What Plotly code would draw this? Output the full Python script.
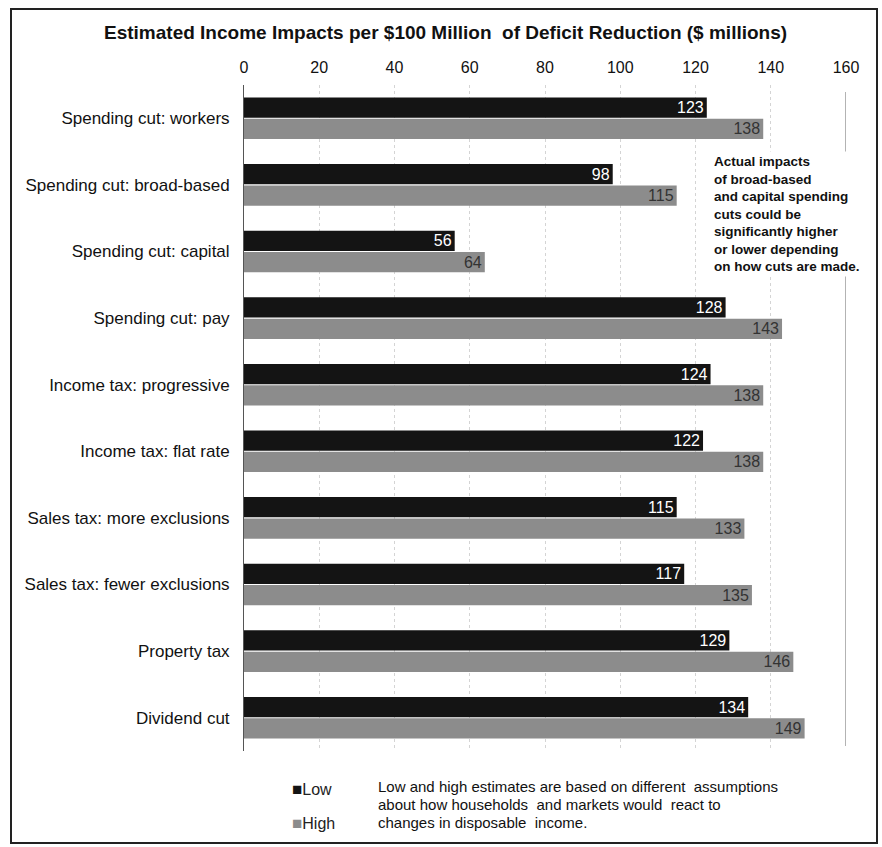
import plotly.graph_objects as go

# Deficit-reduction options (top to bottom)
categories = [
    "Spending cut: workers",
    "Spending cut: broad-based",
    "Spending cut: capital",
    "Spending cut: pay",
    "Income tax: progressive",
    "Income tax: flat rate",
    "Sales tax: more exclusions",
    "Sales tax: fewer exclusions",
    "Property tax",
    "Dividend cut",
]
low_values = [123, 98, 56, 128, 124, 122, 115, 117, 129, 134]
high_values = [138, 115, 64, 143, 138, 138, 133, 135, 146, 149]
x_ticks = [0, 20, 40, 60, 80, 100, 120, 140, 160]

note_lines = [
    "Low and high estimates are based on different  assumptions",
    "about how households  and markets would  react to",
    "changes in disposable  income.",
]

LOW_COLOR = "#141414"
HIGH_COLOR = "#8c8c8c"
FONT = "Liberation Sans, Arial, sans-serif"

W, H = 882, 847
M_L, M_R, M_T, M_B = 244, 36, 85, 96

fig = go.Figure()
fig.add_trace(go.Bar(
    name="Low", y=categories, x=low_values, orientation="h",
    marker=dict(color=LOW_COLOR, line=dict(width=0)),
    text=[str(v) for v in low_values], textposition="inside", textangle=0,
    insidetextanchor="end", constraintext="none",
    insidetextfont=dict(color="white", size=16, family=FONT),
    showlegend=False,
))
fig.add_trace(go.Bar(
    name="High", y=categories, x=high_values, orientation="h",
    marker=dict(color=HIGH_COLOR, line=dict(width=0)),
    text=[str(v) for v in high_values], textposition="inside", textangle=0,
    insidetextanchor="end", constraintext="none",
    insidetextfont=dict(color="#333333", size=16, family=FONT),
    showlegend=False,
))

fig.update_layout(
    width=W, height=H,
    margin=dict(l=M_L, r=M_R, t=M_T, b=M_B, pad=0),
    paper_bgcolor="white", plot_bgcolor="white",
    barmode="group", bargap=0.36, bargroupgap=0.05,
    font=dict(family=FONT, size=14, color="#111111"),
    showlegend=False,
    xaxis=dict(
        side="top", range=[0, 160], tickvals=x_ticks,
        ticktext=[str(t) for t in x_ticks],
        showgrid=True, gridcolor="#d4d4d4", griddash="dot", gridwidth=1,
        zeroline=False, showline=False, ticks="",
        tickfont=dict(size=16, color="#111111"),
        ticklabelstandoff=8, fixedrange=True,
    ),
    yaxis=dict(
        categoryorder="array", categoryarray=categories,
        autorange="reversed", showgrid=False, zeroline=False,
        showline=True, linecolor="#555555", linewidth=1,
        ticks="", ticklabelstandoff=10,
        tickfont=dict(size=17, color="#111111"), fixedrange=True,
    ),
)

pw = W - M_L - M_R
ph = H - M_T - M_B


def px_x(x):
    return (x - M_L) / pw


def px_y(y):
    return 1 - (y - M_T) / ph


# outer frame around the whole chart
fig.add_shape(type="rect", xref="paper", yref="paper",
              x0=px_x(11), x1=px_x(877), y0=px_y(843), y1=px_y(9),
              line=dict(color="#222222", width=2), layer="above")
# right-hand boundary line at the axis maximum
fig.add_shape(type="line", xref="x", yref="paper", x0=160, x1=160,
              y0=px_y(746), y1=px_y(92),
              line=dict(color="#666666", width=1), layer="below")

fig.add_annotation(
    text="<b>Estimated Income Impacts per $100 Million  of Deficit Reduction ($ millions)</b>",
    xref="paper", yref="paper", x=px_x(445), y=px_y(32),
    xanchor="center", yanchor="middle", showarrow=False,
    font=dict(size=19, color="#111111", family=FONT),
)

fig.add_annotation(
    text=("Actual impacts<br>of broad-based<br>and capital spending<br>cuts could be"
          "<br>significantly higher<br>or lower depending<br>on how cuts are made."),
    xref="paper", yref="paper", x=px_x(711), y=px_y(151),
    xanchor="left", yanchor="top", align="left", showarrow=False,
    bgcolor="white", borderpad=2,
    font=dict(size=13.5, color="#111111", family=FONT, weight="bold"),
)

# legend keys
fig.add_annotation(
    text=f"<span style='color:{LOW_COLOR};font-size:17px'>■</span>Low",
    xref="paper", yref="paper", x=px_x(290), y=px_y(789),
    xanchor="left", yanchor="middle", showarrow=False,
    font=dict(size=16, color="#222222", family=FONT),
)
fig.add_annotation(
    text=f"<span style='color:{HIGH_COLOR};font-size:17px'>■</span>High",
    xref="paper", yref="paper", x=px_x(290), y=px_y(823),
    xanchor="left", yanchor="middle", showarrow=False,
    font=dict(size=16, color="#222222", family=FONT),
)
for i, line in enumerate(note_lines):
    fig.add_annotation(
        text=line, xref="paper", yref="paper",
        x=px_x(376), y=px_y(787 + 17.5 * i),
        xanchor="left", yanchor="middle", align="left", showarrow=False,
        font=dict(size=15, color="#111111", family=FONT),
    )

fig.write_html("out.html")
